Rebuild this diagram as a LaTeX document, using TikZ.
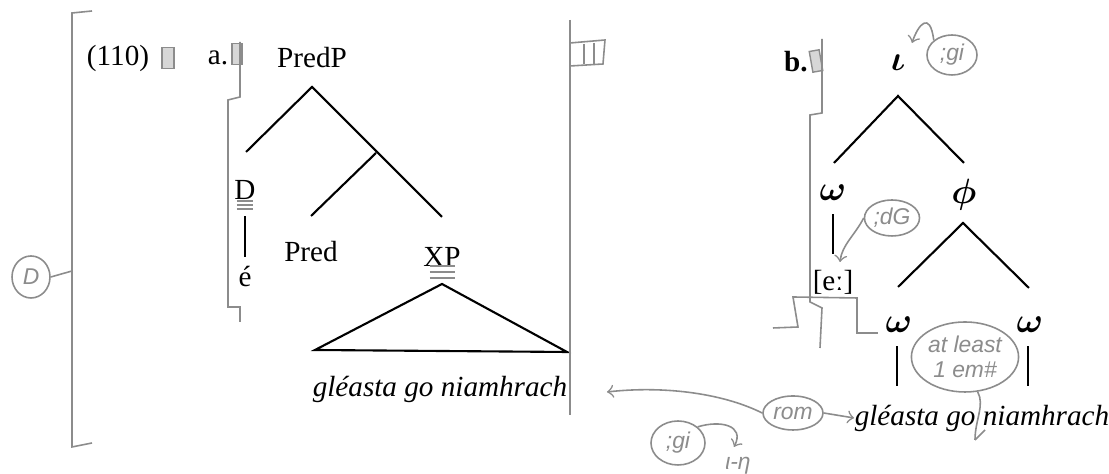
\documentclass[tikz,border=0pt]{standalone}
\usepackage{amsmath}
\usepackage{fontspec}
\setmainfont{Liberation Serif}
\setsansfont{Liberation Sans}
\usepackage{tikz}
\usepackage{xcolor}
\usetikzlibrary{shapes.geometric}
\definecolor{pencil}{gray}{0.55}

\begin{document}
\begin{tikzpicture}[x=0.1mm, y=-0.1mm,
    branch/.style={line width=0.6pt},
    lbl/.style={inner sep=0pt, font=\fontsize{8.3}{10}\selectfont},
    glbl/.style={inner sep=0pt, font=\fontsize{9.6}{11}\selectfont},
    pencilline/.style={draw=pencil, line width=0.45pt},
    note/.style={draw=pencil, text=pencil, ellipse, inner sep=0.3pt, line width=0.45pt,
                 font=\sffamily\itshape\fontsize{6.5}{7}\selectfont},
    boxmark/.style={draw=pencil, fill=pencil!35, inner sep=0pt, minimum width=1.2mm, minimum height=2.1mm}]
\useasboundingbox[fill=white] (0,0) rectangle (1109,474);

% Example number
\node[lbl] (exno) at (118,58) {(110)};
\node[boxmark] (sq1) at (168,58) {};

% Tree (a)
\node[lbl] (la) at (218,58) {a.};
\node[boxmark, minimum width=1mm] (sq2) at (237,54) {};
\node[lbl] (predp) at (312,58) {PredP};
\coordinate (a0) at (312,87);
\coordinate (a1) at (246,152);
\coordinate (a2) at (376,153);
\coordinate (a3) at (442,217);
\coordinate (a4) at (311,216);
\draw[branch] (a1) -- (a0) -- (a3);
\draw[branch] (a2) -- (a4);
\node[lbl] (dd) at (245,190) {D};
\node[lbl] (ee) at (245,277) {é};
\draw[branch, shorten <=1.6mm, shorten >=0.9mm] (dd) -- (ee);
\node[lbl] (pred) at (311,252) {Pred};
\node[lbl] (xp) at (442,257) {XP};
\coordinate (t0) at (442,284);
\coordinate (t1) at (315,350);
\coordinate (t2) at (567,352);
\draw[branch] (t0) -- (t1) -- (t2) -- cycle;
\node[lbl] (gla) at (440,389) {\textit{gléasta go niamhrach}};

% Tree (b)
\node[lbl] (lb) at (796,62) {\textbf{b.}};
\node[boxmark, minimum width=1mm, rotate=10] (sq3) at (816,61) {};
\node[glbl] (iota) at (898,63) {$\boldsymbol{\iota}$};
\coordinate (b0) at (898,96);
\coordinate (b1) at (834,163);
\coordinate (b2) at (964,163);
\draw[branch] (b1) -- (b0) -- (b2);
\node[glbl] (om1) at (833,193) {$\boldsymbol{\omega}$};
\node[glbl] (phi) at (964,195) {$\boldsymbol{\phi}$};
\node[lbl] (ex) at (833,282) {[eː]};
\draw[branch, shorten <=1.3mm, shorten >=1.5mm] (om1) -- (ex);
\coordinate (c0) at (963,223);
\coordinate (c1) at (898,287);
\coordinate (c2) at (1029,288);
\draw[branch] (c1) -- (c0) -- (c2);
\node[glbl] (om2) at (899,325) {$\boldsymbol{\omega}$};
\node[glbl] (om3) at (1030,325) {$\boldsymbol{\omega}$};
\node[lbl] (glb) at (982,418) {\textit{gléasta go niamhrach}};
\draw[branch, shorten <=1.3mm, shorten >=1.8mm] (om2.south -| 897,0) -- (glb.north -| 897,0);
\draw[branch, shorten <=1.3mm, shorten >=1.8mm] (om3.south -| 1028,0) -- (glb.north -| 1028,0);

% Pencil marks
\draw[pencilline] (92,11) -- (72,13) -- (72,447) -- (92,443);
\coordinate (brk) at (72,271);
\node[note, minimum width=3.8mm, minimum height=4.2mm] (dnote) at (31,277) {D};
\draw[pencilline] (dnote.east) -- (brk);
\draw[pencilline] (240,42) -- (240,97) -- (228,100) -- (228,307) -- (240,307) -- (240,322);
\foreach \y in {201,205,209} {
    \draw[pencilline] (237,\y) -- (253,\y);
}
\foreach \y in {266,272,278} {
    \draw[pencilline] (430,\y) -- (455,\y);
}
\draw[pencilline] (570,20) -- (570,415);
\draw[pencilline] (570,43) -- (605,40) -- (603,64) -- (570,66);
\draw[pencilline] (584,44) -- (584,64);
\draw[pencilline] (594,43) -- (594,64);
\draw[pencilline] (822,39) -- (822,113) -- (810,115) -- (810,302) -- (822,308) -- (820,348);
\draw[pencilline] (773,328) -- (798,327) -- (793,297) -- (857,298) -- (857,333) -- (878,333);

% Notes
\node[note, minimum width=5mm, minimum height=4mm] (gi1) at (952,55) {;gi};
\coordinate (gi1tip) at (912,43);
\draw[pencilline, ->] (gi1.north west) .. controls (930,10) and (918,25) .. (gi1tip);
\node[note, minimum width=5.2mm, minimum height=3.6mm] (dg) at (892,218) {;dG};
\coordinate (dgtip) at (840,262);
\draw[pencilline, ->] (dg.west) .. controls (855,235) and (842,245) .. (dgtip);
\node[note, align=center, minimum width=6.2mm, minimum height=7mm] (atl) at (965,357) {at least\\1 em\#};
\coordinate (cut) at (975,440);
\draw[pencilline] (atl.-70) .. controls (985,405) and (975,420) .. (cut);
\draw[pencilline] (cut) -- (985,430);
\node[note, minimum width=6mm, minimum height=3.4mm] (rom) at (793,413) {rom};
\coordinate (romtip) at (607,392);
\draw[pencilline, ->] (rom.east) -- (glb.west);
\draw[pencilline, ->] (rom.west) .. controls (720,392) and (660,386) .. (romtip);
\node[note, minimum width=5.4mm, minimum height=4.4mm] (gi2) at (678,443) {;gi};
\coordinate (gi2tip) at (734,447);
\draw[pencilline, ->] (gi2.north east) .. controls (720,420) and (745,425) .. (gi2tip);
\node[text=pencil, font=\sffamily\itshape\fontsize{6.5}{7}\selectfont] (inote) at (738,466) {ι-η};
\end{tikzpicture}
\end{document}
